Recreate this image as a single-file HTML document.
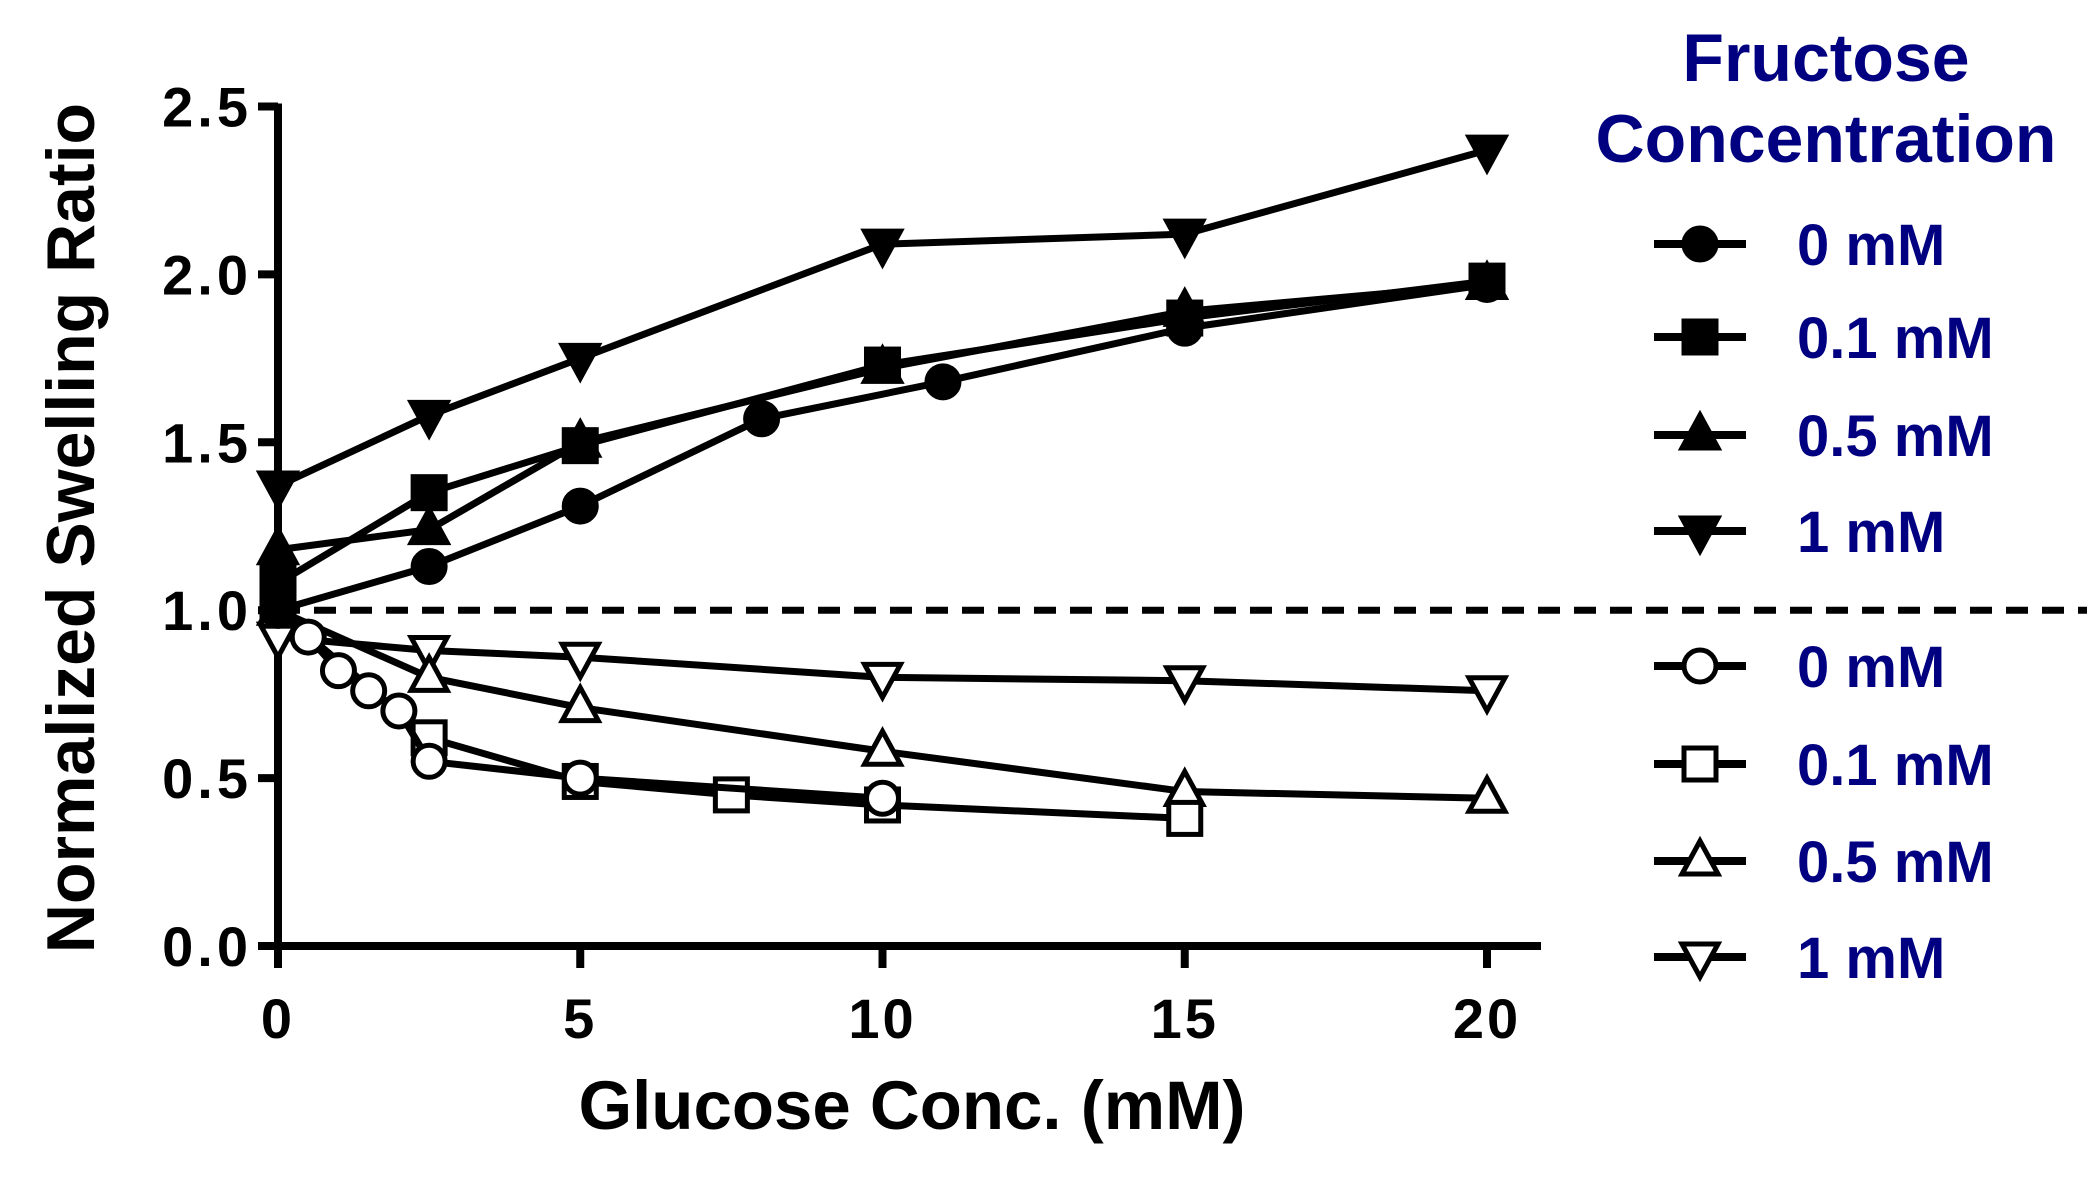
<!DOCTYPE html>
<html><head><meta charset="utf-8"><style>
html,body{margin:0;padding:0;background:#fff;}
svg{display:block;font-family:"Liberation Sans",Arial,sans-serif;font-weight:bold;}
</style></head><body>
<svg id="chart" width="2087" height="1179" viewBox="0 0 2087 1179" xmlns="http://www.w3.org/2000/svg"></svg>
<script>
const xTicks=[0,5,10,15,20];
const yTicks=[0.0,0.5,1.0,1.5,2.0,2.5];
const yTickLabels=["0.0","0.5","1.0","1.5","2.0","2.5"];
const legendLabels=["0 mM","0.1 mM","0.5 mM","1 mM"];
// filled (upper) series
const f0x=[0,2.5,5,8,11,15,20];       const f0y=[1.00,1.13,1.31,1.57,1.68,1.84,1.97];
const f1x=[0,2.5,5,10,15,20];         const f1y=[1.08,1.35,1.49,1.73,1.87,1.98];
const f5x=[0,2.5,5,10,15,20];         const f5y=[1.18,1.24,1.50,1.72,1.89,1.97];
const f10x=[0,2.5,5,10,15,20];        const f10y=[1.37,1.58,1.75,2.09,2.12,2.37];
// open (lower) series
const o0x=[0,0.5,1,1.5,2,2.5,5,10];   const o0y=[1.00,0.92,0.82,0.76,0.70,0.55,0.50,0.44];
const o1x=[0,2.5,5,7.5,10,15];        const o1y=[1.00,0.62,0.49,0.45,0.42,0.38];
const o5x=[0,2.5,5,10,15,20];         const o5y=[1.00,0.80,0.71,0.58,0.46,0.44];
const o10x=[0,2.5,5,10,15,20];        const o10y=[0.92,0.88,0.86,0.80,0.79,0.76];
const refLine=1.0;

const svg=document.getElementById('chart');
const NS='http://www.w3.org/2000/svg';
const X0=278,X1=1487,Y0=946,Y1=106.5;
const sx=v=>X0+(v-0)/(20-0)*(X1-X0);
const sy=v=>Y0-(v-0)/(2.5-0)*(Y0-Y1);
function mk(tag,attrs,parent){const e=document.createElementNS(NS,tag);for(const k in attrs)e.setAttribute(k,attrs[k]);(parent||svg).appendChild(e);return e;}

const dl=mk('line',{x1:X0,x2:2087,y1:sy(refLine),y2:sy(refLine),stroke:'#000','stroke-width':7,'stroke-dasharray':'22 14'});



const ya=mk('line',{x1:X0,x2:X0,y1:Y1-3,y2:Y0+3,stroke:'#000','stroke-width':8});


const xa=mk('line',{x1:X0-3,x2:1541,y1:Y0,y2:Y0,stroke:'#000','stroke-width':8});


yTicks.forEach((t,i)=>{
  const tl=mk('line',{x1:X0-20,x2:X0,y1:sy(t),y2:sy(t),stroke:'#000','stroke-width':8});
  
  
  const tx=mk('text',{x:252,y:sy(t)+20,'text-anchor':'end','font-size':56,'letter-spacing':4});
  tx.textContent=yTickLabels[i];
  
  
});
xTicks.forEach(t=>{
  const tl=mk('line',{x1:sx(t),x2:sx(t),y1:Y0,y2:Y0+22,stroke:'#000','stroke-width':8});
  
  
  const tx=mk('text',{x:sx(t),y:1038,'text-anchor':'middle','font-size':56,'letter-spacing':3});
  tx.textContent=String(t);
  
  
});

function marker(shape,filled,cx,cy,parent){
  const a={fill:filled?'#000':'#fff',stroke:'#000','stroke-width':5};
  if(shape==='circle') return mk('circle',Object.assign({cx,cy,r:16},a),parent);
  if(shape==='square') return mk('rect',Object.assign({x:cx-16,y:cy-16,width:32,height:32},a),parent);
  if(shape==='up') return mk('polygon',Object.assign({points:`${cx},${cy-20} ${cx+18},${cy+13} ${cx-18},${cy+13}`},a),parent);
  return mk('polygon',Object.assign({points:`${cx},${cy+20} ${cx+18},${cy-13} ${cx-18},${cy-13}`},a),parent);
}
function series(name,xs,ys,shape,filled){
  const g=mk('g',{});
  
  
  const pl=mk('polyline',{points:xs.map((x,i)=>sx(x)+','+sy(ys[i])).join(' '),fill:'none',stroke:'#000','stroke-width':7,'stroke-linejoin':'round'},g);
  
  
  xs.forEach((x,i)=>{
    const m=marker(shape,filled,sx(x),sy(ys[i]),g);
    
    
  });
}
series('series-open-1mM',o10x,o10y,'down',false);
series('series-open-0.5mM',o5x,o5y,'up',false);
series('series-open-0.1mM',o1x,o1y,'square',false);
series('series-open-0mM',o0x,o0y,'circle',false);
series('series-filled-0mM',f0x,f0y,'circle',true);
series('series-filled-0.5mM',f5x,f5y,'up',true);
series('series-filled-0.1mM',f1x,f1y,'square',true);
series('series-filled-1mM',f10x,f10y,'down',true);

const yt=mk('text',{x:0,y:0,'text-anchor':'middle','font-size':68,transform:'translate(94,528) rotate(-90)'});
yt.textContent='Normalized Swelling Ratio';


const xt=mk('text',{x:912,y:1129,'text-anchor':'middle','font-size':69});
xt.textContent='Glucose Conc. (mM)';



const lt1=mk('text',{x:1826,y:81,'text-anchor':'middle','font-size':68,fill:'#000080'});
lt1.textContent='Fructose';


const lt2=mk('text',{x:1826,y:162,'text-anchor':'middle','font-size':68,fill:'#000080'});
lt2.textContent='Concentration';


const rowsY=[244,337,435,531,666,764,861,957];
const shapes=['circle','square','up','down'];
rowsY.forEach((ry,i)=>{
  const g=mk('g',{});
  
  
  mk('line',{x1:1654,x2:1746,y1:ry,y2:ry,stroke:'#000','stroke-width':8},g);
  marker(shapes[i%4],i<4,1700,ry,g);
  const t=mk('text',{x:1797,y:ry+21,'font-size':58,fill:'#000080'},g);
  t.textContent=legendLabels[i%4];
});
</script>
</body></html>
